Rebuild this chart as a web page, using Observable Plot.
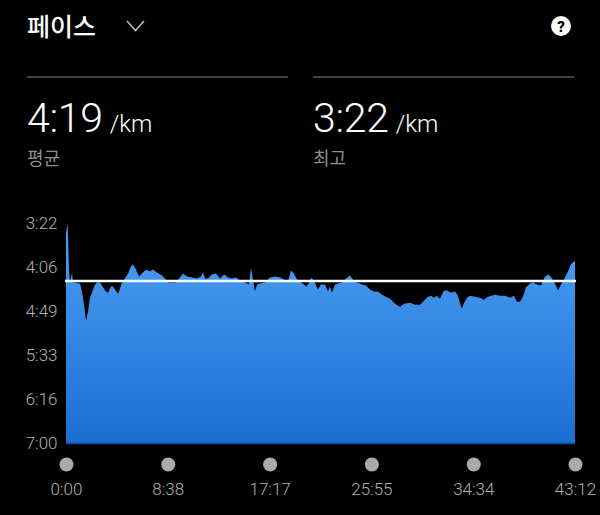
<!DOCTYPE html>
<html><head><meta charset="utf-8">
<script src="https://cdn.jsdelivr.net/npm/d3@7"></script>
<script src="https://cdn.jsdelivr.net/npm/@observablehq/plot@0.6"></script>
<style>
html,body{margin:0;padding:0;background:#000;width:600px;height:515px;overflow:hidden;font-family:Roboto,"Noto Sans CJK KR",sans-serif;color:#fff}
.a{position:absolute;white-space:nowrap;line-height:1}
#chart{position:absolute;left:0;top:200px}
.rule{position:absolute;top:76px;height:1.5px;background:#444;width:261px}
.big{font-size:41px;font-weight:300;letter-spacing:-.3px}
.unit{font-size:24px;font-weight:300;margin-left:7px}
.sub{font-family:"Noto Sans CJK KR";font-size:18px;color:#8e8e8e}
</style></head><body>
<div class="a" style="left:27px;top:13px;font-family:'Noto Sans CJK KR';font-size:25px;font-weight:500" id="title"></div>
<svg class="a" style="left:124px;top:18px" width="24" height="16"><polyline points="3,3 11.5,12.5 20,3" fill="none" stroke="#bbb" stroke-width="1.6"/></svg>
<svg class="a" style="left:549px;top:14px" width="24" height="24"><circle cx="12" cy="12" r="10" fill="#fff"/><text x="12" y="17.5" text-anchor="middle" font-family="Roboto" font-weight="900" font-size="15" fill="#000">?</text></svg>
<div class="rule" style="left:27px"></div><div class="rule" style="left:313px"></div>
<div class="a" id="avg" style="left:27px;top:98px"></div>
<div class="a" id="best" style="left:313px;top:98px"></div>
<div class="a sub" style="left:27px;top:148px" id="avgL"></div>
<div class="a sub" style="left:313px;top:148px" id="bestL"></div>
<div id="chart"></div>
<script>
const titleText = "페이스";
const avgText = "4:19", bestText = "3:22", unitText = "/km";
const avgLabel = "평균", bestLabel = "최고";
const averagePace = 259;
const yTicks = [202, 246, 289, 333, 376, 420];
const yLabels = ["3:22", "4:06", "4:49", "5:33", "6:16", "7:00"];
const xTicks = [0, 518, 1037, 1555, 2074, 2592];
const xLabels = ["0:00", "8:38", "17:17", "25:55", "34:34", "43:12"];
const times = [0,8,15,20,31,36,46,61,71,81,92,102,112,122,132,148,158,173,183,199,214,224,234,250,265,275,285,300,316,331,341,356,372,387,407,428,443,463,489,504,519,540,560,580,596,616,642,667,687,698,708,723,743,764,784,805,825,845,866,886,911,932,942,952,962,973,988,1013,1039,1064,1090,1110,1130,1146,1161,1176,1192,1212,1222,1237,1248,1263,1273,1283,1298,1319,1334,1344,1354,1370,1385,1405,1426,1446,1461,1477,1497,1507,1528,1548,1568,1589,1609,1629,1650,1670,1690,1701,1721,1752,1777,1803,1828,1843,1859,1874,1889,1904,1925,1940,1960,1981,1996,2006,2016,2027,2042,2057,2083,2108,2128,2149,2184,2210,2235,2261,2281,2296,2312,2327,2342,2363,2378,2398,2419,2439,2459,2475,2490,2505,2521,2536,2556,2571,2587,2592];
const paces = [212,202,248,261,251,261,261,262,262,270,283,299,290,276,271,263,261,261,264,269,271,267,264,268,272,267,261,257,252,245,243,248,255,252,248,250,248,251,254,257,261,261,261,256,252,255,256,257,255,251,257,257,253,252,257,253,256,257,256,259,261,263,246,258,270,263,262,261,256,255,256,258,260,249,252,258,260,263,265,262,256,259,264,268,263,263,270,265,271,263,262,261,257,254,258,261,262,263,264,268,270,270,273,275,277,281,284,285,282,281,283,283,278,275,274,276,274,277,269,269,271,270,274,281,287,281,276,274,275,276,278,275,273,274,274,276,274,280,280,275,266,262,261,263,264,255,253,257,262,269,263,258,250,243,240,240];

document.getElementById("title").textContent = titleText;
document.getElementById("avg").innerHTML = `<span class="big">${avgText}</span><span class="unit">${unitText}</span>`;
document.getElementById("best").innerHTML = `<span class="big">${bestText}</span><span class="unit">${unitText}</span>`;
document.getElementById("avgL").textContent = avgLabel;
document.getElementById("bestL").textContent = bestLabel;

const rows = times.map((t, i) => ({t, p: paces[i]}));
const yName = d3.scaleOrdinal(yTicks, yLabels), xName = d3.scaleOrdinal(xTicks, xLabels);
const gradient = () => {
  const s = d3.create("svg:defs");
  const g = s.append("linearGradient").attr("id", "fillG").attr("x1", 0).attr("x2", 0).attr("y1", 0).attr("y2", 1);
  g.append("stop").attr("offset", "0%").attr("stop-color", "#4da0f4");
  g.append("stop").attr("offset", "100%").attr("stop-color", "#1b6fd2");
  return s.node();
};
const plot = Plot.plot({
  width: 600, height: 315,
  marginLeft: 66, marginRight: 25, marginTop: 23, marginBottom: 72,
  style: {background: "transparent", fontFamily: "Roboto", fontSize: "17px", overflow: "visible"},
  x: {domain: [0, 2592]},
  y: {domain: [420, 202]},
  marks: [
    gradient,
    Plot.areaY(rows, {x: "t", y1: () => 420, y2: "p", fill: "url(#fillG)", curve: "linear"}),
    Plot.ruleY([420], {stroke: "#0f4a9c", strokeWidth: 1.5}),
    Plot.ruleY([averagePace], {stroke: "#fff", strokeWidth: 2.5, insetLeft: -1, insetRight: -1}),
    Plot.dot(xTicks, {x: d => d, y: () => 420, dy: 21, r: 7, fill: "#aaaaaa", stroke: "none"}),
    Plot.axisY({ticks: yTicks, tickFormat: d => yName(d), tickSize: 0, tickPadding: 9, label: null, fill: "#b0b0b0", textAnchor: "end", fontSize: 17, fontWeight: 300}),
    Plot.axisX({ticks: xTicks, tickFormat: d => xName(d), tickSize: 0, tickPadding: 39, label: null, fill: "#b0b0b0", fontSize: 17, fontWeight: 300})
  ]
});
document.getElementById("chart").appendChild(plot);
</script>
</body></html>
